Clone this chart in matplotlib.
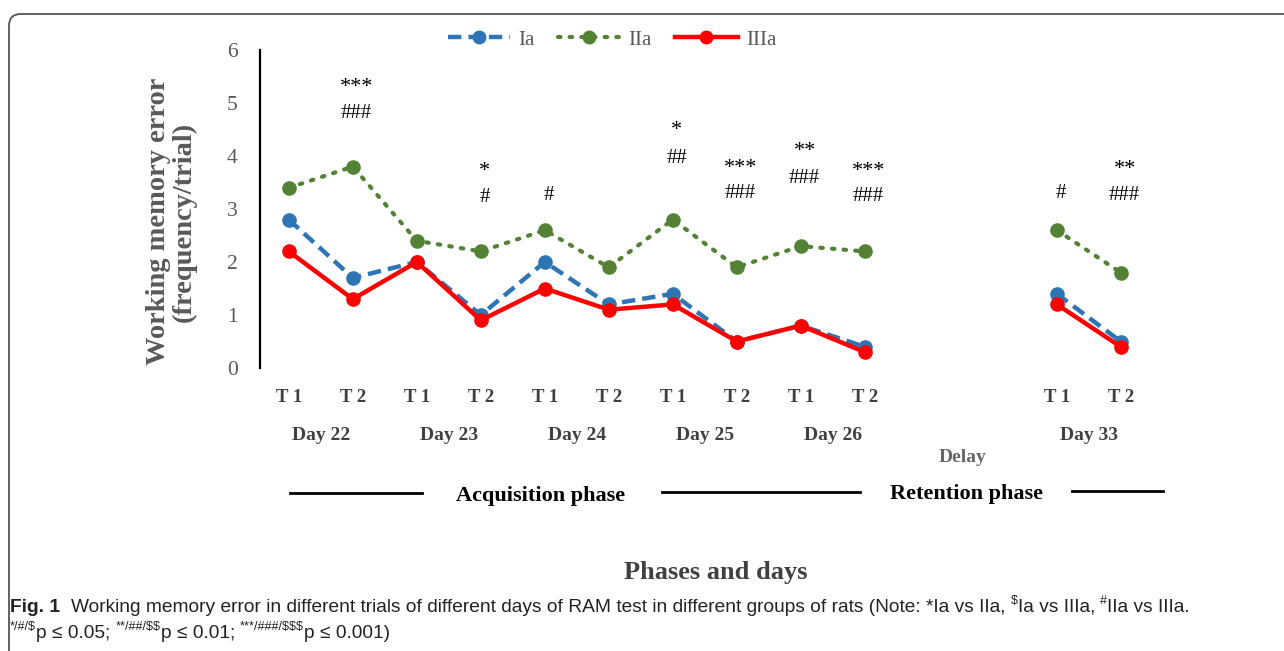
import matplotlib
matplotlib.use('Agg')
import matplotlib.pyplot as plt
from matplotlib.lines import Line2D
from matplotlib.patches import FancyBboxPatch

plt.rcParams['font.family'] = ['Liberation Serif', 'DejaVu Serif']

# data
pos = [0, 1, 2, 3, 4, 5, 6, 7, 8, 9, 12, 13]
trials = ['T 1', 'T 2'] * 6
days = ['Day 22', 'Day 23', 'Day 24', 'Day 25', 'Day 26', 'Day 33']
ia = [2.8, 1.7, 2.0, 1.0, 2.0, 1.2, 1.4, 0.5, 0.8, 0.4, 1.4, 0.5]
iia = [3.4, 3.8, 2.4, 2.2, 2.6, 1.9, 2.8, 1.9, 2.3, 2.2, 2.6, 1.8]
iiia = [2.2, 1.3, 2.0, 0.9, 1.5, 1.1, 1.2, 0.5, 0.8, 0.3, 1.2, 0.4]

# significance marks: (x position, y position, text)
sig_pos = [1, 1, 3, 3, 4, 6, 6, 7, 7, 8, 8, 9, 9, 12, 13, 13]
sig_y = [5.30, 4.81, 3.70, 3.21, 3.26, 4.49, 3.96, 3.77, 3.30, 4.08, 3.58,
         3.70, 3.23, 3.30, 3.74, 3.25]
sig_txt = ['***', '###', '*', '#', '#', '*', '##', '***', '###', '**', '###',
           '***', '###', '#', '**', '###']

fig = plt.figure(figsize=(12.84, 6.51), dpi=100)
ax = fig.add_axes([260 / 1284, 283 / 651, 960 / 1284, 318 / 651])

seg1 = slice(0, 10)
seg2 = slice(10, 12)
blue, green, red = '#2E75B6', '#548235', '#FF0000'

for s in (seg1, seg2):
    ax.plot(pos[s], ia[s], color=blue, lw=3.2, ls=(0, (3, 1.6)), marker='o',
            ms=9.5, clip_on=False, zorder=3)
    ax.plot(pos[s], iia[s], color=green, lw=3, ls=(0, (0.6, 2.2)),
            dash_capstyle='round', marker='o', ms=9.5, clip_on=False, zorder=2)
    ax.plot(pos[s], iiia[s], color=red, lw=3.2, marker='o', ms=9.5,
            clip_on=False, zorder=4)

for x, y, t in zip(sig_pos, sig_y, sig_txt):
    ax.text(x + 0.06, y, t, ha='center', va='center',
            fontsize=16 if '*' in t else 15, color='black')

ax.set_xlim(-0.45, 14.55)
ax.set_ylim(0, 6)
ax.set_yticks(range(7))
ax.set_xticks(pos)
ax.set_xticklabels(trials, fontweight='bold', fontsize=13.5, color='#404040')
ax.tick_params(axis='x', length=0, pad=15)
ax.tick_params(axis='y', length=0, pad=16, labelsize=15.5,
               labelcolor='#595959')
for sp in ['top', 'right', 'bottom']:
    ax.spines[sp].set_visible(False)
ax.spines['left'].set_linewidth(1.6)

# day labels under trial pairs
trans = ax.get_xaxis_transform()
for i, d in enumerate(days):
    xc = (pos[2 * i] + pos[2 * i + 1]) / 2
    ax.text(xc, -0.212, d, transform=trans, ha='center', va='center',
            fontsize=14, fontweight='bold', color='#404040')
ax.text(10.52, -0.28, 'Delay', transform=trans, ha='center', va='center',
        fontsize=14, fontweight='bold', color='#666666')

ax.set_ylabel('Working memory error\n(frequency/trial)', fontsize=20.5,
              fontweight='bold', color='#595959', linespacing=1.0)
ax.yaxis.set_label_coords(-0.066, 0.46)

# phase lines and labels
def fline(x0, x1, y):
    fig.add_artist(Line2D([x0 / 1284, x1 / 1284], [1 - y / 651, 1 - y / 651],
                          color='black', lw=2))

fline(290, 422, 493)
fline(662, 860, 492)
fline(1072, 1163, 491)
fig.text(541 / 1284, 1 - 496 / 651, 'Acquisition phase', ha='center',
         va='center', fontsize=16, fontweight='bold')
fig.text(966 / 1284, 1 - 494 / 651, 'Retention phase', ha='center',
         va='center', fontsize=16, fontweight='bold')
fig.text(716 / 1284, 1 - 572 / 651, 'Phases and days', ha='center',
         va='center', fontsize=19, fontweight='bold', color='#404040')

# legend
handles = [
    Line2D([], [], color=blue, lw=3.2, ls=(0, (3, 1.6)), marker='o', ms=9),
    Line2D([], [], color=green, lw=3, ls=(0, (0.6, 2.2)),
           dash_capstyle='round', marker='o', ms=9),
    Line2D([], [], color=red, lw=3.2, marker='o', ms=9),
]
leg = fig.legend(handles, ['Ia', 'IIa', 'IIIa'], loc='center',
                 bbox_to_anchor=(612 / 1284, 1 - 40 / 651), ncol=3,
                 frameon=False, fontsize=15, handlelength=3.0,
                 handletextpad=0.4, columnspacing=1.1)
for t in leg.get_texts():
    t.set_color('#595959')

# figure frame
fig.patches.append(FancyBboxPatch((9, -30), 1320, 651 - 14 + 30,
                                  boxstyle='round,pad=0,rounding_size=12',
                                  transform=None, fill=False,
                                  edgecolor='#555555', lw=1.3))

# caption, drawn in runs so superscripts sit right after the text
cap_font = ['Liberation Sans', 'DejaVu Sans']
renderer = fig.canvas.get_renderer()


def draw_runs(x, y, runs, size=13.8):
    for s, sup, bold in runs:
        t = fig.text(x / 1284, 1 - (y - (6 if sup else 0)) / 651, s,
                     fontsize=size * 0.66 if sup else size, family=cap_font,
                     fontweight='bold' if bold else 'normal', va='center',
                     color='#222222', parse_math=False)
        x += t.get_window_extent(renderer).width


draw_runs(10, 607, [
    ('Fig. 1  ', False, True),
    ('Working memory error in different trials of different days of RAM test '
     'in different groups of rats (Note: *Ia vs IIa, ', False, False),
    ('$', True, False), ('Ia vs IIIa, ', False, False),
    ('#', True, False), ('IIa vs IIIa.', False, False),
])
draw_runs(10, 633, [
    ('*/#/$', True, False), ('p \u2264 0.05; ', False, False),
    ('**/##/$$', True, False), ('p \u2264 0.01; ', False, False),
    ('***/###/$$$', True, False), ('p \u2264 0.001)', False, False),
])

fig.savefig('out.png', dpi=100)
